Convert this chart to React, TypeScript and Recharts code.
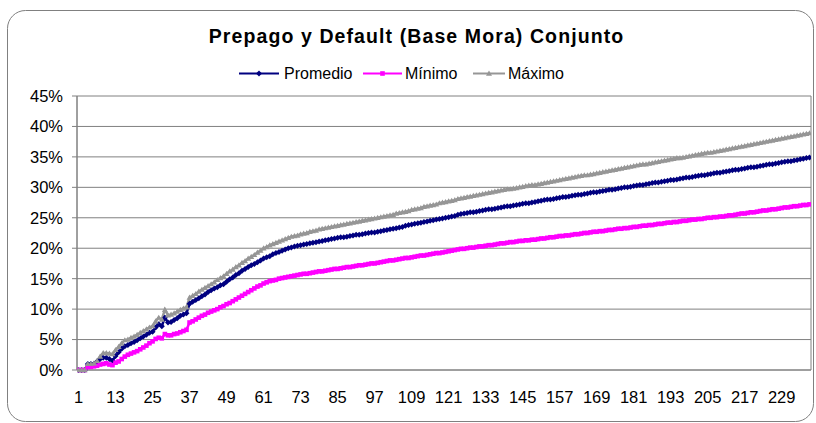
import React from 'react';
import { LineChart, Line, XAxis, YAxis, CartesianGrid } from 'recharts';

const title = 'Prepago y Default (Base Mora) Conjunto';
const seriesNames = ['Promedio', 'Mínimo', 'Máximo'];
const categories: number[] = Array.from({ length: 238 }, (_, i) => i + 1);
const xTicks = [1, 13, 25, 37, 49, 61, 73, 85, 97, 109, 121, 133, 145, 157, 169, 181, 193, 205, 217, 229];
const yTicks = [0, 5, 10, 15, 20, 25, 30, 35, 40, 45];

const promedio = [
  0, 0, 0, 1.0, 1.0, 1.0, 1.4, 1.8, 2.0, 2.0,
  1.8, 1.5, 2.3, 2.9, 3.5, 3.9, 4.1, 4.4, 4.6, 4.9,
  5.2, 5.5, 5.8, 6.1, 6.3, 7.0, 7.5, 7.2, 8.6, 7.8,
  7.9, 8.2, 8.5, 8.9, 9.1, 9.3, 10.9, 11.2, 11.5, 11.8,
  12.1, 12.4, 12.8, 13.1, 13.4, 13.6, 13.9, 14.1, 14.5, 14.9,
  15.2, 15.6, 15.9, 16.3, 16.6, 16.9, 17.2, 17.4, 17.7, 18.0,
  18.3, 18.5, 18.7, 19.0, 19.2, 19.4, 19.6, 19.8, 20.0, 20.1,
  20.3, 20.4, 20.5, 20.6, 20.7, 20.8, 20.9, 21.0, 21.1, 21.2,
  21.3, 21.4, 21.5, 21.6, 21.7, 21.8, 21.8, 21.9, 22.0, 22.1,
  22.2, 22.2, 22.3, 22.4, 22.5, 22.6, 22.6, 22.7, 22.8, 22.9,
  23.0, 23.1, 23.2, 23.3, 23.4, 23.5, 23.7, 23.8, 23.9, 24.0,
  24.1, 24.2, 24.3, 24.4, 24.5, 24.6, 24.7, 24.8, 24.9, 25.0,
  25.1, 25.2, 25.3, 25.5, 25.6, 25.7, 25.8, 25.9, 25.9, 26.0,
  26.1, 26.2, 26.3, 26.4, 26.4, 26.5, 26.6, 26.7, 26.8, 26.9,
  26.9, 27.0, 27.1, 27.2, 27.3, 27.4, 27.4, 27.5, 27.6, 27.7,
  27.8, 27.9, 28.0, 28.0, 28.1, 28.2, 28.3, 28.4, 28.4, 28.5,
  28.6, 28.7, 28.8, 28.8, 28.9, 29.0, 29.1, 29.2, 29.2, 29.3,
  29.4, 29.5, 29.6, 29.6, 29.7, 29.8, 29.9, 30.0, 30.0, 30.1,
  30.2, 30.3, 30.4, 30.4, 30.5, 30.6, 30.7, 30.8, 30.8, 30.9,
  31.0, 31.1, 31.2, 31.2, 31.3, 31.4, 31.5, 31.6, 31.6, 31.7,
  31.8, 31.9, 32.0, 32.0, 32.1, 32.2, 32.3, 32.4, 32.4, 32.5,
  32.6, 32.7, 32.8, 32.9, 32.9, 33.0, 33.1, 33.2, 33.3, 33.3,
  33.4, 33.5, 33.6, 33.7, 33.8, 33.8, 33.9, 34.0, 34.1, 34.2,
  34.3, 34.3, 34.4, 34.5, 34.6, 34.7, 34.8, 34.9,
];

const minimo = [
  0, 0, 0, 0.5, 0.5, 0.6, 0.7, 0.9, 1.0, 1.1,
  0.9, 0.8, 1.2, 1.4, 1.8, 2.2, 2.5, 2.7, 2.9, 3.1,
  3.4, 3.7, 4.0, 4.4, 4.7, 5.1, 5.3, 5.2, 5.9, 5.7,
  5.7, 5.9, 6.0, 6.2, 6.4, 6.6, 7.8, 8.0, 8.3, 8.6,
  8.9, 9.1, 9.4, 9.6, 9.8, 10.0, 10.3, 10.5, 10.8, 11.0,
  11.3, 11.6, 11.9, 12.2, 12.5, 12.8, 13.1, 13.4, 13.7, 13.9,
  14.2, 14.4, 14.6, 14.7, 14.8, 15.0, 15.1, 15.2, 15.3, 15.4,
  15.5, 15.6, 15.7, 15.8, 15.8, 15.9, 16.0, 16.1, 16.2, 16.2,
  16.3, 16.4, 16.5, 16.6, 16.6, 16.7, 16.8, 16.9, 16.9, 17.0,
  17.1, 17.2, 17.2, 17.3, 17.4, 17.5, 17.5, 17.6, 17.7, 17.8,
  17.9, 18.0, 18.0, 18.1, 18.2, 18.3, 18.4, 18.4, 18.5, 18.6,
  18.7, 18.8, 18.8, 18.9, 19.0, 19.1, 19.2, 19.2, 19.3, 19.4,
  19.5, 19.6, 19.7, 19.8, 19.9, 19.9, 20.0, 20.1, 20.1, 20.2,
  20.3, 20.3, 20.4, 20.5, 20.5, 20.6, 20.7, 20.8, 20.8, 20.9,
  21.0, 21.0, 21.1, 21.2, 21.2, 21.3, 21.3, 21.4, 21.4, 21.5,
  21.6, 21.6, 21.7, 21.8, 21.8, 21.9, 22.0, 22.0, 22.1, 22.1,
  22.2, 22.3, 22.3, 22.4, 22.5, 22.5, 22.6, 22.7, 22.7, 22.8,
  22.8, 22.9, 23.0, 23.0, 23.1, 23.2, 23.2, 23.3, 23.3, 23.4,
  23.5, 23.5, 23.6, 23.7, 23.7, 23.8, 23.8, 23.9, 24.0, 24.0,
  24.1, 24.2, 24.2, 24.3, 24.3, 24.4, 24.5, 24.5, 24.6, 24.7,
  24.7, 24.8, 24.8, 24.9, 25.0, 25.0, 25.1, 25.1, 25.2, 25.2,
  25.3, 25.4, 25.4, 25.5, 25.6, 25.7, 25.7, 25.8, 25.9, 25.9,
  26.0, 26.1, 26.2, 26.2, 26.3, 26.4, 26.4, 26.5, 26.6, 26.7,
  26.7, 26.8, 26.9, 26.9, 27.0, 27.1, 27.1, 27.2,
];

const maximo = [
  0, 0, 0, 1.0, 1.0, 1.1, 1.5, 2.2, 2.8, 2.8,
  2.7, 2.6, 3.3, 3.8, 4.4, 4.9, 5.0, 5.3, 5.5, 5.8,
  6.1, 6.4, 6.7, 7.0, 7.2, 8.0, 8.6, 8.3, 9.9, 9.0,
  9.1, 9.3, 9.6, 9.9, 10.1, 10.3, 11.9, 12.2, 12.5, 12.9,
  13.2, 13.5, 13.8, 14.1, 14.4, 14.8, 15.1, 15.4, 15.8, 16.2,
  16.5, 16.9, 17.2, 17.6, 17.9, 18.3, 18.6, 18.9, 19.3, 19.6,
  20.0, 20.2, 20.5, 20.7, 20.9, 21.1, 21.3, 21.5, 21.7, 21.9,
  22.0, 22.1, 22.3, 22.4, 22.5, 22.7, 22.8, 22.9, 23.1, 23.2,
  23.3, 23.4, 23.5, 23.6, 23.7, 23.8, 23.9, 24.0, 24.1, 24.2,
  24.3, 24.4, 24.5, 24.6, 24.7, 24.8, 24.9, 25.0, 25.1, 25.2,
  25.3, 25.4, 25.5, 25.7, 25.8, 25.9, 26.0, 26.1, 26.3, 26.4,
  26.5, 26.6, 26.8, 26.9, 27.0, 27.1, 27.2, 27.4, 27.5, 27.6,
  27.7, 27.8, 27.9, 28.1, 28.2, 28.3, 28.4, 28.5, 28.6, 28.7,
  28.8, 28.9, 29.0, 29.1, 29.2, 29.3, 29.4, 29.5, 29.6, 29.7,
  29.7, 29.8, 29.9, 30.0, 30.1, 30.2, 30.3, 30.4, 30.4, 30.5,
  30.6, 30.7, 30.8, 30.9, 31.0, 31.1, 31.2, 31.3, 31.4, 31.5,
  31.6, 31.7, 31.8, 31.9, 32.0, 32.0, 32.1, 32.2, 32.3, 32.4,
  32.5, 32.6, 32.7, 32.8, 32.9, 33.0, 33.1, 33.2, 33.3, 33.4,
  33.5, 33.6, 33.7, 33.8, 33.8, 33.9, 34.0, 34.1, 34.2, 34.3,
  34.4, 34.5, 34.6, 34.7, 34.8, 34.8, 34.9, 35.0, 35.1, 35.2,
  35.3, 35.4, 35.5, 35.6, 35.7, 35.7, 35.8, 35.9, 36.0, 36.1,
  36.2, 36.3, 36.4, 36.5, 36.6, 36.7, 36.8, 36.9, 37.0, 37.1,
  37.2, 37.3, 37.4, 37.5, 37.6, 37.7, 37.8, 37.9, 38.0, 38.1,
  38.2, 38.3, 38.4, 38.5, 38.6, 38.7, 38.8, 38.9,
];

const COLORS = { promedio: '#000080', minimo: '#FF00FF', maximo: '#969696' };
const FONT = '"Liberation Sans", Arial, sans-serif';
const AXIS = '#808080';

const data = categories.map((c, i) => ({
  x: c,
  promedio: promedio[i],
  minimo: minimo[i],
  maximo: maximo[i],
}));

const Diamond = ({ cx, cy, fill }: any) => (
  <polygon points={`${cx},${cy - 3} ${cx + 3},${cy} ${cx},${cy + 3} ${cx - 3},${cy}`} fill={fill} />
);
const Square = ({ cx, cy, fill }: any) => (
  <rect x={cx - 2.3} y={cy - 2.3} width={4.6} height={4.6} fill={fill} />
);
const Triangle = ({ cx, cy, fill }: any) => (
  <polygon points={`${cx},${cy - 3} ${cx + 3},${cy + 2.2} ${cx - 3},${cy + 2.2}`} fill={fill} />
);

const mkDot = (Shape: any, fill: string, k: string) => (p: any) => {
  if (p.cx == null || p.cy == null) return <g key={`${k}-${p.index}`} />;
  return <Shape key={`${k}-${p.index}`} cx={p.cx} cy={p.cy} fill={fill} />;
};

export default function App() {
  const legendItems = [
    { name: seriesNames[0], color: COLORS.promedio, Shape: Diamond, x1: 239, x2: 279, tx: 284 },
    { name: seriesNames[1], color: COLORS.minimo, Shape: Square, x1: 363, x2: 402, tx: 405 },
    { name: seriesNames[2], color: COLORS.maximo, Shape: Triangle, x1: 473, x2: 505, tx: 508 },
  ];
  return (
    <div style={{ position: 'fixed', left: 0, top: 0, width: 816, height: 423, background: '#fff', fontFamily: FONT }}>
      <svg width={816} height={423} style={{ position: 'absolute', left: 0, top: 0 }}>
        <rect x={7.5} y={10.5} width={806} height={411} rx={18} ry={18} fill="#fff" stroke={AXIS} strokeWidth={1} />
        <text x={416.5} y={43} textAnchor="middle" fontFamily={FONT} fontWeight="bold" fontSize={19.5} letterSpacing={1.1} fill="#000">
          {title}
        </text>
        {legendItems.map((it) => (
          <g key={it.name}>
            <line x1={it.x1} x2={it.x2} y1={73.5} y2={73.5} stroke={it.color} strokeWidth={2} />
            <it.Shape cx={(it.x1 + it.x2) / 2} cy={73.5} fill={it.color} />
            <text x={it.tx} y={79} fontFamily={FONT} fontSize={16} fill="#000">{it.name}</text>
          </g>
        ))}
      </svg>
      <div style={{ position: 'absolute', left: 0, top: 0 }}>
        <LineChart width={816} height={423} data={data} margin={{ top: 96, right: 5, bottom: 23, left: 0 }}>
          <CartesianGrid stroke={AXIS} horizontal={true} vertical={true} verticalPoints={[77, 811]} />
          <XAxis
            dataKey="x"
            type="number"
            domain={[0.5, 238.5]}
            ticks={xTicks}
            interval={0}
            allowDataOverflow
            height={30}
            tickLine={false}
            tickSize={6}
            tickMargin={15}
            axisLine={{ stroke: AXIS }}
            tick={{ fill: '#000', fontSize: 16.5, fontFamily: FONT }}
          />
          <YAxis
            type="number"
            domain={[0, 45]}
            ticks={yTicks}
            interval={0}
            width={77}
            tickFormatter={(v: number) => `${v}%`}
            tickSize={5}
            tickMargin={9}
            tickLine={{ stroke: AXIS }}
            axisLine={{ stroke: AXIS }}
            tick={{ fill: '#000', fontSize: 16.5, fontFamily: FONT }}
          />
          <Line dataKey="promedio" name={seriesNames[0]} stroke={COLORS.promedio} strokeWidth={2.5} isAnimationActive={false} dot={mkDot(Diamond, COLORS.promedio, 'p')} activeDot={false} />
          <Line dataKey="minimo" name={seriesNames[1]} stroke={COLORS.minimo} strokeWidth={2.5} isAnimationActive={false} dot={mkDot(Square, COLORS.minimo, 'm')} activeDot={false} />
          <Line dataKey="maximo" name={seriesNames[2]} stroke={COLORS.maximo} strokeWidth={2.5} isAnimationActive={false} dot={mkDot(Triangle, COLORS.maximo, 'x')} activeDot={false} />
        </LineChart>
      </div>
    </div>
  );
}
